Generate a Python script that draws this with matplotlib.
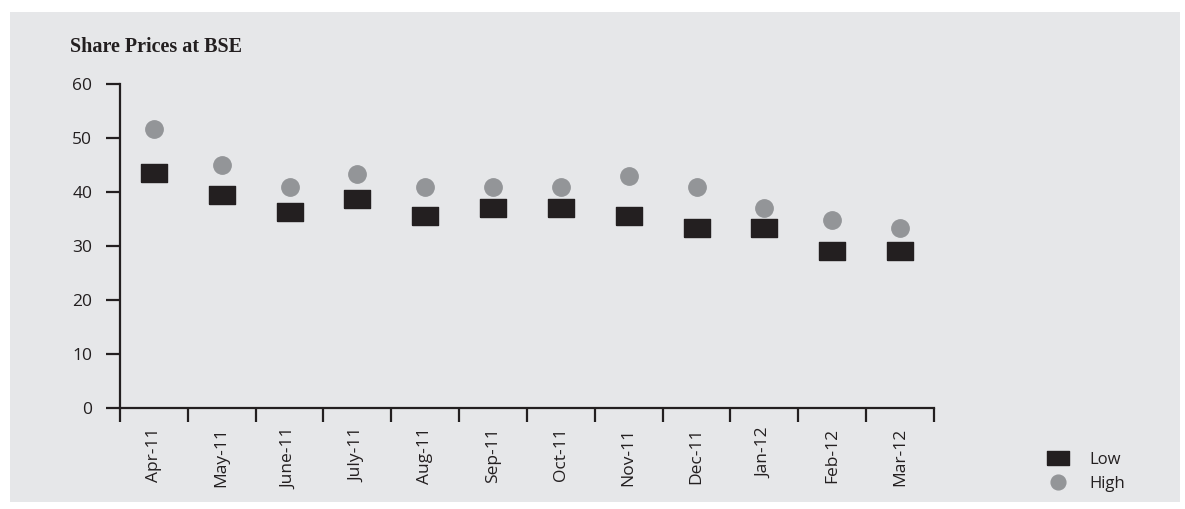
import matplotlib.pyplot as plt
import numpy as np
from matplotlib.patches import Rectangle

months = ['Apr-11', 'May-11', 'June-11', 'July-11', 'Aug-11', 'Sep-11',
          'Oct-11', 'Nov-11', 'Dec-11', 'Jan-12', 'Feb-12', 'Mar-12']
low = [43.5, 39.4, 36.3, 38.7, 35.6, 37.0, 37.0, 35.5, 33.3, 33.3, 29.1, 29.1]
high = [51.7, 45.0, 40.9, 43.3, 40.9, 40.9, 40.9, 42.9, 40.9, 37.0, 34.8, 33.3]
yticks = [0, 10, 20, 30, 40, 50, 60]

bg = '#e6e7e9'
dark = '#231f20'
grey = '#939598'

W, H = 1185, 509
fig = plt.figure(figsize = (W / 100, H / 100), dpi = 100)
fig.patch.set_facecolor('white')
fig.patches.append(Rectangle((10 / W, 7 / H), 1170 / W, 490 / H,
                             transform = fig.transFigure, facecolor = bg,
                             edgecolor = 'none', zorder = -5))

ax = fig.add_axes([120 / W, (H - 408) / H, 814 / W, 324 / H])
ax.set_facecolor('none')
ax.set_zorder(2)

x = np.arange(len(months))
rect = [(-1.5, -1), (1.5, -1), (1.5, 1), (-1.5, 1), (-1.5, -1)]
ax.plot(x, low, linestyle = 'none', marker = rect, markersize = 19,
        color = dark, label = 'Low', zorder = 3, clip_on = False)
ax.plot(x, high, linestyle = 'none', marker = 'o', markersize = 12.5,
        color = grey, label = 'High', zorder = 3, clip_on = False)

ax.set_xlim(-0.5, len(months) - 0.5)
ax.set_ylim(0, 60)
ax.set_yticks(yticks)
ax.set_xticks(np.arange(len(months) + 1) - 0.5)
ax.set_xticklabels([])
ax.set_xticks(x, minor = True)
ax.set_xticklabels(months, minor = True, rotation = 90)

for s in ['top', 'right']:
    ax.spines[s].set_visible(False)
for s in ['left', 'bottom']:
    ax.spines[s].set_linewidth(1.6)
    ax.spines[s].set_color(dark)

ax.tick_params(axis = 'y', which = 'major', length = 10, width = 1.6,
               color = dark, labelsize = 12.5, labelcolor = dark, pad = 10)
ax.tick_params(axis = 'x', which = 'major', length = 10, width = 1.6,
               color = dark, direction = 'out')
ax.tick_params(axis = 'x', which = 'minor', length = 0, labelsize = 12.5,
               labelcolor = dark, pad = 14)
for lab in ax.get_xticklabels(minor = True) + ax.get_yticklabels():
    lab.set_fontfamily('Open Sans')

fig.text(70 / W, (H - 47) / H, 'Share Prices at BSE', family = 'Liberation Serif',
         fontweight = 'bold', fontsize = 14.5, color = dark, va = 'center')

fig.legend(loc = 'lower right', bbox_to_anchor = (1140 / W, 2 / H),
           frameon = False, prop = {'family': 'Open Sans', 'size': 12},
           labelcolor = dark, handletextpad = 0.9, labelspacing = 0.5,
           markerscale = 0.85)

fig.savefig('out.png', dpi = 100, facecolor = fig.get_facecolor())
plt.close()
